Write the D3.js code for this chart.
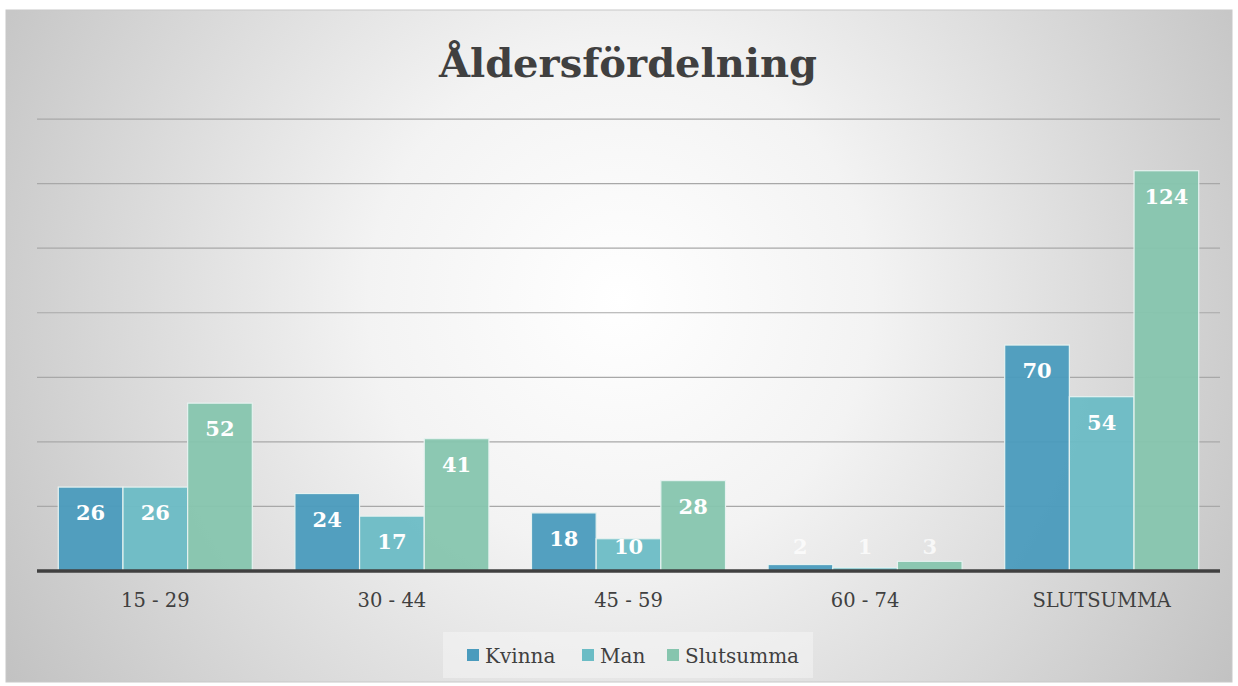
<!DOCTYPE html>
<html>
<head>
<meta charset="utf-8">
<script src="https://cdnjs.cloudflare.com/ajax/libs/d3/7.8.5/d3.min.js"></script>
<style>
  body { margin: 0; background: #fff; }
  svg text { font-family: "DejaVu Serif", serif; }
</style>
</head>
<body>
<div id="chart"></div>
<script>
// data
var categories = ["15 - 29", "30 - 44", "45 - 59", "60 - 74", "SLUTSUMMA"];
var seriesNames = ["Kvinna", "Man", "Slutsumma"];
var kvinna = [26, 24, 18, 2, 70];
var man = [26, 17, 10, 1, 54];
var slutsumma = [52, 41, 28, 3, 124];
var gridTicks = [0, 20, 40, 60, 80, 100, 120, 140];

var colors = ["#4a9bbd", "#6bbcc5", "#86c5ae"];

var W = 1238, H = 686;
var margin = { top: 119, left: 37, right: 18, bottom: 115 };

var svg = d3.select("#chart").append("svg")
  .attr("width", W)
  .attr("height", H);

// background radial gradient
var defs = svg.append("defs");
var grad = defs.append("radialGradient")
  .attr("id", "bg")
  .attr("gradientUnits", "userSpaceOnUse")
  .attr("cx", 620).attr("cy", 300).attr("r", 720);
grad.append("stop").attr("offset", "0%").attr("stop-color", "#ffffff");
grad.append("stop").attr("offset", "35%").attr("stop-color", "#f3f3f3");
grad.append("stop").attr("offset", "100%").attr("stop-color", "#c2c2c2");

svg.append("rect")
  .attr("x", 6).attr("y", 10)
  .attr("width", 1226).attr("height", 672)
  .attr("fill", "url(#bg)")
  .attr("stroke", "#c8c8c8");

svg.append("text")
  .attr("x", 628).attr("y", 77)
  .attr("text-anchor", "middle")
  .attr("font-size", 40)
  .attr("font-weight", "bold")
  .attr("fill", "#404040")
  .text("Åldersfördelning");

var x0 = d3.scaleBand()
  .domain(categories)
  .range([margin.left, W - margin.right])
  .paddingInner(0.18)
  .paddingOuter(0.09);

var x1 = d3.scaleBand()
  .domain(seriesNames)
  .range([0, x0.bandwidth()]);

var baseY = 571;
var y = d3.scaleLinear()
  .domain([0, 140])
  .range([baseY, baseY - 140 * 3.228]);

// grid lines
svg.append("g")
  .selectAll("line")
  .data(gridTicks.slice(1))
  .enter().append("line")
  .attr("x1", margin.left).attr("x2", W - margin.right)
  .attr("y1", d => y(d)).attr("y2", d => y(d))
  .attr("stroke", "#a8a8a8")
  .attr("stroke-width", 1.2);

var rows = [];
categories.forEach(function(c, i) {
  rows.push({ cat: c, series: "Kvinna", val: kvinna[i] });
  rows.push({ cat: c, series: "Man", val: man[i] });
  rows.push({ cat: c, series: "Slutsumma", val: slutsumma[i] });
});

var color = d3.scaleOrdinal().domain(seriesNames).range(colors);

svg.append("g")
  .selectAll("rect")
  .data(rows)
  .enter().append("rect")
  .attr("x", d => x0(d.cat) + x1(d.series))
  .attr("y", d => y(d.val))
  .attr("width", x1.bandwidth())
  .attr("height", d => baseY - y(d.val))
  .attr("fill", d => color(d.series))
  .attr("fill-opacity", 0.95)
  .attr("stroke", "#e6f2f0")
  .attr("stroke-width", 1.2);

svg.append("g")
  .selectAll("text")
  .data(rows)
  .enter().append("text")
  .attr("x", d => x0(d.cat) + x1(d.series) + x1.bandwidth() / 2)
  .attr("y", d => Math.min(y(d.val) + 26, baseY - 24))
  .attr("dy", "0.35em")
  .attr("text-anchor", "middle")
  .attr("font-size", 21)
  .attr("font-weight", "bold")
  .attr("fill", "#ffffff")
  .attr("fill-opacity", d => d.val < 5 ? 0.75 : 1)
  .text(d => d.val);

// baseline
svg.append("line")
  .attr("x1", margin.left).attr("x2", W - margin.right)
  .attr("y1", baseY).attr("y2", baseY)
  .attr("stroke", "#404040")
  .attr("stroke-width", 3.5);

// category axis
var xAxis = svg.append("g")
  .attr("transform", "translate(0," + baseY + ")")
  .call(d3.axisBottom(x0).tickSize(0).tickPadding(22));
xAxis.select(".domain").remove();
xAxis.selectAll("text")
  .attr("font-size", 19.5)
  .attr("fill", "#404040")
  .style("font-family", "DejaVu Serif, serif");

// legend
svg.append("rect")
  .attr("x", 443).attr("y", 632)
  .attr("width", 370).attr("height", 46)
  .attr("fill", "#f8f8f8")
  .attr("opacity", 0.45);

var legendX = [467, 582, 667];
var legend = svg.append("g")
  .selectAll("g")
  .data(seriesNames)
  .enter().append("g")
  .attr("transform", (d, i) => "translate(" + legendX[i] + ",655)");
legend.append("rect")
  .attr("x", 0).attr("y", -6)
  .attr("width", 12).attr("height", 12)
  .attr("fill", d => color(d));
legend.append("text")
  .attr("x", 18).attr("y", 1)
  .attr("dy", "0.35em")
  .attr("font-size", 20)
  .attr("fill", "#404040")
  .text(d => d);
</script>
</body>
</html>
